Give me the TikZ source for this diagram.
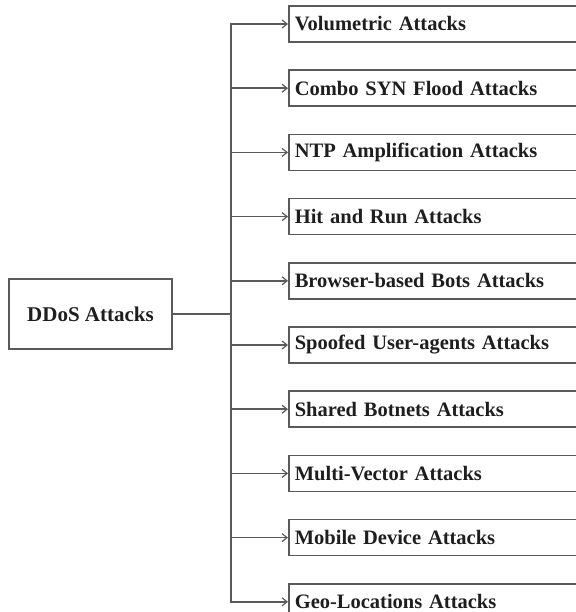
\documentclass[tikz,border=0pt]{standalone}
\usepackage{fontspec}
\setmainfont{Liberation Serif}
\usetikzlibrary{arrows.meta}
\definecolor{edgegray}{HTML}{5A5A5A}
\definecolor{inkdark}{HTML}{1E1E1E}
\tikzset{
  rootbox/.style={draw=edgegray, line width=1.6bp, minimum width=163bp, minimum height=70bp,
    inner sep=0pt, font=\bfseries\fontsize{21bp}{24bp}\selectfont, text=inkdark},
  leafbox/.style={draw=edgegray, line width=1.6bp, anchor=west, minimum height=36bp,
    text width=310bp, inner xsep=6bp, inner ysep=0pt, align=left,
    font=\bfseries\fontsize{20.5bp}{23bp}\selectfont, text=inkdark},
  wire/.style={draw=edgegray, line width=1.6bp},
  branch/.style={wire, -{Straight Barb[length=5bp, width=8bp, line width=1.2bp]}}
}
\begin{document}
\begin{tikzpicture}[x=1bp, y=-1bp]
  \useasboundingbox (0,0) rectangle (576,612);
  \clip (0,0) rectangle (576,612);
  % root and the trunk junction
  \node[rootbox] (root) at (90.5,314) {DDoS Attacks};
  \coordinate (junc) at (231,314);
  % attack categories, one row every 64.2 units
  \foreach \name/\label [count=\i from 0] in {
      a/Volumetric Attacks,
      b/Combo SYN Flood Attacks,
      c/NTP Amplification Attacks,
      d/Hit and Run Attacks,
      e/Browser-based Bots Attacks,
      f/Spoofed User-agents Attacks,
      g/Shared Botnets Attacks,
      h/Multi-Vector Attacks,
      i/Mobile Device Attacks,
      j/Geo-Locations Attacks} {
    \node[leafbox] (\name) at (288, 24+64.2*\i) {\label};
    \draw[branch] (junc) |- (\name.west);
  }
  \draw[wire] (root.east) -- (junc);
\end{tikzpicture}
\end{document}
